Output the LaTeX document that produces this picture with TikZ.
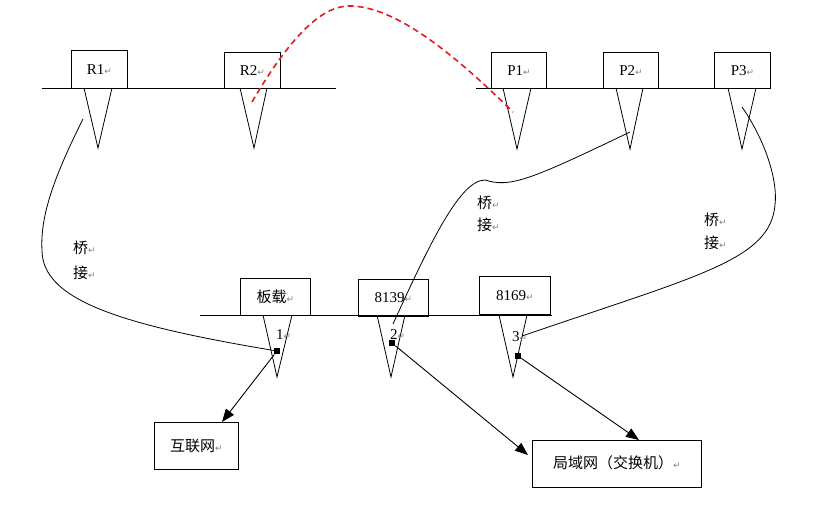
\documentclass[tikz,border=0pt]{standalone}
\usepackage{fontspec}
\setmainfont{Liberation Serif}
\newfontfamily\cjk{Noto Sans CJK SC}
\newfontfamily\djv{DejaVu Sans}
\usetikzlibrary{arrows.meta}
\definecolor{reddash}{RGB}{220,30,30}
\newcommand\pmk{{\djv\fontsize{9}{9}\selectfont\textcolor{gray}{↵}}}
\begin{document}
\begin{tikzpicture}[x=1pt,y=-1pt,
  every node/.style={font=\fontsize{15}{17}\selectfont},
  box/.style={draw, line width=0.9pt, inner sep=0pt, anchor=north west, align=center},
  busline/.style={line width=0.9pt},
  tri/.style={line width=0.8pt},
  wire/.style={line width=0.8pt},
  arr/.style={line width=0.9pt, -{Triangle[length=13pt,width=10pt]}},
  sq/.style={fill=black, inner sep=0pt, minimum size=6.5pt},
  lbl/.style={anchor=west, inner sep=0pt},
  dashcurve/.style={draw=reddash, line width=1.6pt, dash pattern=on 6pt off 4pt}]
\useasboundingbox (0,0) rectangle (820,511);
% top buses
\draw[busline] (42,88) -- (336,88);
\draw[busline] (476,88) -- (770,88);
\draw[busline] (200,315) -- (552,315);
% top boxes
\node[box, minimum width=56pt, minimum height=38pt] (r1) at (71,50) {R1\pmk};
\node[box, minimum width=56pt, minimum height=36pt] (r2) at (224,52) {R2\pmk};
\node[box, minimum width=55pt, minimum height=36pt] (p1) at (491,52) {P1\pmk};
\node[box, minimum width=55pt, minimum height=36pt] (p2) at (603,52) {P2\pmk};
\node[box, minimum width=56pt, minimum height=36pt] (p3) at (714,52) {P3\pmk};
% top triangles
\draw[tri] (84,88) -- (98,148) -- (112,88);
\draw[tri] (240,88) -- (254,148) -- (267,88);
\draw[tri] (503,88) -- (517,149) -- (531,88);
\draw[tri] (616,88) -- (630,149) -- (643,88);
\draw[tri] (728,88) -- (742,149) -- (756,88);
% bottom boxes
\node[box, minimum width=70pt, minimum height=37pt] (bz) at (240,278) {{\cjk 板载}\pmk};
\node[box, minimum width=70pt, minimum height=37pt] (c8139) at (358,279) {8139\pmk};
\node[box, minimum width=71pt, minimum height=38pt] (c8169) at (479,276) {8169\pmk};
% bottom triangles
\draw[tri] (263,315) -- (277,377) -- (292,315);
\draw[tri] (377,315) -- (391,377) -- (405,315);
\draw[tri] (499,315) -- (513,377) -- (527,315);
\node[lbl] (n1) at (276,335) {1\pmk};
\node[lbl] (n2) at (390,335) {2\pmk};
\node[lbl] (n3) at (512,337) {3\pmk};
% squares
\node[sq] (sq1) at (277,351) {};
\node[sq] (sq2) at (392,343) {};
\node[sq] (sq3) at (518,356) {};
% target boxes
\node[box, minimum width=84pt, minimum height=47pt] (inet) at (154,422) {{\cjk 互联网}\pmk};
\node[box, minimum width=169pt, minimum height=47pt] (lan) at (532,440) {\raisebox{4pt}{{\cjk 局域网（交换机）}\pmk}};
% arrows
\coordinate (inetin) at (222,422);
\coordinate (lanin2) at (528,455);
\coordinate (lanin3) at (639,440);
\draw[arr] (sq1) -- (inetin);
\draw[arr] (sq2) -- (lanin2);
\draw[arr] (sq3) -- (lanin3);
% bridge curves
\coordinate (r1end) at (83,119);
\coordinate (p2end) at (630,132);
\coordinate (p3end) at (742,107);
\coordinate (e2) at (393,324);
\coordinate (e3) at (522,336);
\draw[wire] (r1end) .. controls (55,175) and (40,215) .. (42,250)
  .. controls (42,300) and (120,325) .. (sq1.center);
\draw[wire] (e2) .. controls (430,243) and (460,180) .. (485,180)
  .. controls (510,188) and (530,180) .. (p2end);
\draw[wire] (p3end) .. controls (765,140) and (778,180) .. (775,205)
  .. controls (770,260) and (700,275) .. (e3);
% bridge labels
\node[lbl] (q1a) at (73,248) {{\cjk 桥}\pmk};
\node[lbl] (q1b) at (73,273) {{\cjk 接}\pmk};
\node[lbl] (q2a) at (477,203) {{\cjk 桥}\pmk};
\node[lbl] (q2b) at (477,225) {{\cjk 接}\pmk};
\node[lbl] (q3a) at (704,220) {{\cjk 桥}\pmk};
\node[lbl] (q3b) at (704,243) {{\cjk 接}\pmk};
% red dashed bridge
\coordinate (rs) at (252,102);
\coordinate (re) at (513,112);
\draw[dashcurve] (rs) .. controls (300,20) and (330,5) .. (352,6)
  .. controls (400,8) and (460,60) .. (re);
\end{tikzpicture}
\end{document}
